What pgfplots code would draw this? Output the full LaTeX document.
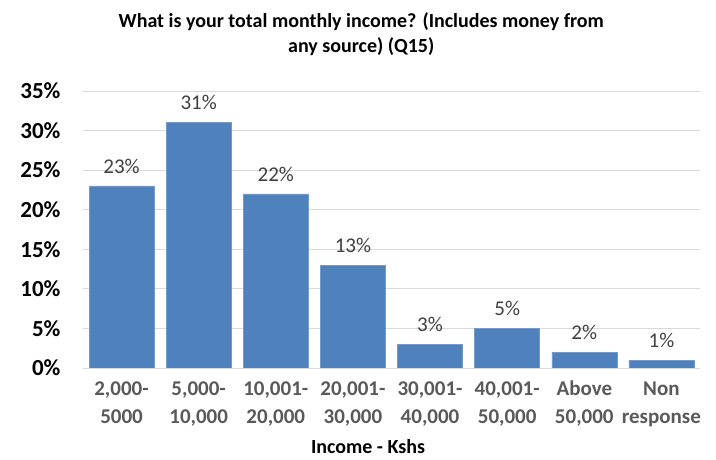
\documentclass[border=0pt]{standalone}
\usepackage{pgfplots}
\pgfplotsset{compat=1.18}
\usepackage{fontspec}
\setmainfont{Carlito}
\definecolor{barblue}{HTML}{4F81BD}
\definecolor{gridgray}{HTML}{D9D9D9}
\definecolor{labgray}{HTML}{595959}
\definecolor{datagray}{HTML}{404040}
\begin{document}
\begin{tikzpicture}
\path[use as bounding box] (-83pt,-91pt) rectangle (633pt,368pt);
\begin{axis}[
  at={(0pt,0pt)}, anchor=south west,
  scale only axis, width=617pt, height=277pt,
  xmin=-0.5, xmax=7.5, ymin=0, ymax=35,
  ybar, bar width=65pt,
  axis line style={draw=none},
  xtick={0,...,7},
  xticklabels={{\strut 2,000-\\5000},{\strut 5,000-\\10,000},{\strut 10,001-\\20,000},{\strut 20,001-\\30,000},{\strut 30,001-\\40,000},{\strut 40,001-\\50,000},{\strut Above\\50,000},{\strut Non\\response}},
  xticklabel style={font=\fontsize{21}{28}\selectfont\bfseries, text=labgray, align=center, anchor=north, yshift=-4pt},
  ytick={0,5,...,35},
  yticklabel={\pgfmathprintnumber{\tick}\%},
  yticklabel style={font=\fontsize{23}{26}\selectfont\bfseries, text=black, xshift=-19pt},
  /pgf/number format/assume math mode=true,
  major tick length=0pt,
  ymajorgrids, grid style={gridgray, line width=1pt},
  nodes near coords={\pgfmathprintnumber{\pgfplotspointmeta}\%},
  nodes near coords style={font=\fontsize{21}{24}\selectfont, text=datagray, yshift=9pt},
  clip=false,
]
\addplot[fill=barblue, draw=barblue!80!white, line width=0.5pt] coordinates {(0,23) (1,31) (2,22) (3,13) (4,3) (5,5) (6,2) (7,1)};
\draw[gridgray, line width=1pt] (axis cs:-0.5,0) -- (axis cs:7.5,0);
\node[font=\fontsize{20}{25}\selectfont\bfseries, align=center] at (axis description cs:0.451,1.206) {What is your total monthly income? (Includes money from\\any source) (Q15)};
\node[font=\fontsize{20}{22}\selectfont\bfseries, anchor=base, inner sep=0pt] at (axis description cs:0.462,-0.308) {Income - Kshs};
\end{axis}
\end{tikzpicture}
\end{document}
